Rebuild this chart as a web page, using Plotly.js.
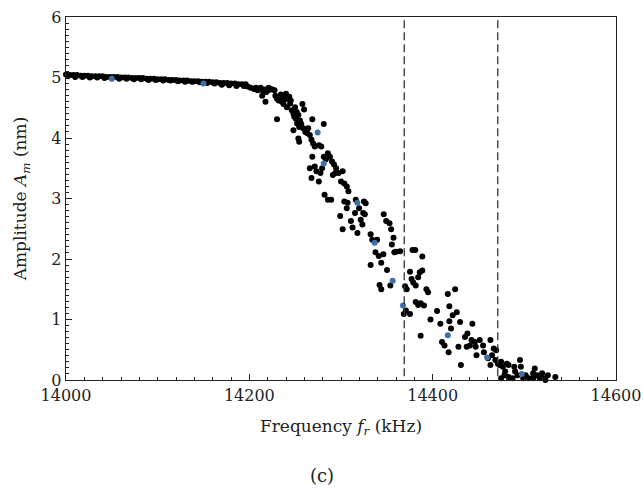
<!DOCTYPE html>
<html>
<head>
<meta charset="utf-8">
<script src="https://cdn.plot.ly/plotly-3.0.1.min.js"></script>
<style>html,body{margin:0;padding:0;background:#fff;}#chart{width:643px;height:490px;}</style>
</head>
<body>
<div id="chart"></div>
<script>
// Flat (low-frequency) part of the curve
var bandFreq = [14000,14004,14008,14012,14016,14020,14024,14028,14032,14036,14040,14044,14048,14052,14056,14060,14064,14068,14072,14076,14080,14084,14088,14092,14096,14100,14104,14108,14112,14116,14120,14124,14128,14132,14136,14140,14144,14148,14152,14156,14160,14164,14168,14172,14176,14180,14184,14188,14192,14196,
                14002,14010,14018,14026,14034,14042,14050,14058,14066,14074,14082,14090,14098,14106,14114,14122,14130,14138,14146,14154,14162,14170,14178,14186,14194,14198];
var bandAmp  = [5.05,5.04,5.04,5.04,5.03,5.03,5.03,5.02,5.02,5.02,5.02,5.01,5.01,5.01,5.01,5.00,5.00,5.00,4.99,4.99,4.99,4.99,4.98,4.98,4.98,4.97,4.97,4.97,4.96,4.96,4.96,4.95,4.95,4.95,4.94,4.94,4.94,4.93,4.93,4.93,4.92,4.92,4.91,4.91,4.91,4.90,4.90,4.89,4.89,4.89,
                5.02,5.01,5.01,5.00,5.00,4.99,4.99,4.98,4.98,4.97,4.97,4.96,4.96,4.95,4.95,4.94,4.93,4.93,4.92,4.91,4.90,4.88,4.87,4.86,4.86,4.85];

// Scattered drop region
var dropFreq = [14201.5,14207.3,14210.5,14214.0,14216.3,14218.5,14217.6,14220.8,14223.0,14227.5,14228.4,14230.2,14230.2,14232.0,14233.8,14235.5,14237.3,14240.0,14241.8,14243.6,14244.5,14240.9,14246.3,14248.1,14249.9,14251.7,14249.0,14250.8,14253.5,14255.2,14257.9,14259.7,14248.1,14252.1,14254.4,14256.6,14258.8,14261.1,14263.3,14268.7,14281.2,14254.4,14253.5,14264.2,14266.0,14267.8,14269.6,14271.4,14275.8,14278.5,14281.2,14283.5,14285.7,14287.9,14290.2,14292.4,14294.7,14268.7,14271.4,14273.2,14279.4,14277.6,14266.0,14267.8,14275.8,14282.1,14285.7,14289.3,14291.1,14293.8,14297.3,14300.0,14301.8,14303.6,14306.3,14308.1,14299.1,14301.8,14303.6,14306.3,14307.2,14310.8,14312.6,14315.3,14316.1,14319.7,14321.5,14323.3,14325.1,14326.9,14324.2,14326.0,14317.9,14332.3,14334.1,14339.4,14346.6,14349.3,14352.9,14354.7,14357.3,14355.5,14358.2,14360.0,14337.6,14341.2,14343.9,14346.2,14332.3,14342.1,14343.9,14350.2,14353.8,14364.5,14378.0,14381.0,14369.9,14371.7,14368.5,14370.8,14375.3,14377.0,14378.8,14381.5,14384.2,14386.0,14388.7,14388.7,14381.5,14384.2,14386.9,14390.5,14375.3,14386.9,14393.2,14395.0,14397.6,14404.8,14408.4,14410.2,14412.9,14416.5,14418.2,14420.0,14418.2,14417.4,14421.8,14424.5,14426.3,14428.1,14429.9,14430.8,14435.3,14437.9,14440.6,14442.4,14443.3,14446.0,14446.9,14437.1,14447.8,14451.4,14455.0,14455.9,14460.3,14463.0,14464.8,14466.6,14468.4,14463.0,14469.3,14471.1,14472.9,14474.7,14476.5,14479.1,14480.9,14482.7,14474.7,14478.3,14482.7,14487.2,14489.0,14489.9,14492.6,14495.3,14496.2,14498.8,14501.5,14505.1,14509.6,14511.4,14514.1,14516.8,14519.4,14521.2,14523.0,14525.7,14533.8,14509.6,14205.0,14209.0,14212.3,14215.0,14221.0,14225.0,14234.5,14238.6,14245.2,14239.0];
var dropAmp  = [4.83,4.83,4.80,4.70,4.80,4.76,4.60,4.79,4.81,4.79,4.70,4.65,4.31,4.62,4.68,4.60,4.56,4.73,4.65,4.68,4.57,4.51,4.46,4.40,4.51,4.43,4.35,4.32,4.38,4.29,4.56,4.47,4.13,4.24,4.18,4.23,4.16,4.10,4.08,4.31,4.23,3.94,3.99,4.16,4.05,3.97,3.91,3.86,3.88,3.86,3.69,3.65,3.75,3.69,3.61,3.56,3.50,3.69,3.53,3.45,3.50,3.42,3.50,3.34,3.28,3.06,2.98,2.98,3.39,3.42,3.42,3.28,3.45,3.25,3.20,3.12,2.71,2.49,2.95,2.84,2.93,2.63,2.52,2.76,2.98,2.84,2.65,2.57,2.95,2.92,2.76,2.74,2.43,2.41,2.32,2.32,2.74,2.63,2.59,2.49,2.35,2.24,2.11,2.12,2.11,2.05,1.94,2.08,1.90,1.57,1.50,1.82,1.56,2.13,2.15,2.15,1.55,1.50,1.09,1.15,1.79,1.67,1.61,1.56,1.70,1.78,1.81,2.04,1.29,1.24,1.27,1.23,1.09,0.73,1.50,1.45,1.00,1.14,0.93,0.63,0.57,1.42,1.22,0.85,0.97,0.46,1.07,1.50,1.12,0.55,0.96,0.25,0.71,0.77,0.57,0.66,0.93,0.63,0.55,0.55,0.41,0.66,0.57,0.46,0.36,0.66,0.41,0.52,0.33,0.25,0.49,0.27,0.25,0.30,0.22,0.14,0.27,0.25,0.03,0.08,0.05,0.03,0.22,0.14,0.08,0.33,0.22,0.03,0.08,0.03,0.03,0.19,0.08,0.03,0.11,0.03,0.00,0.08,0.05,0.11,4.81,4.79,4.83,4.78,4.83,4.80,4.72,4.64,4.62,4.69];

// Highlighted (blue) points
var blueFreq = [14050,14150,14274.5,14281.2,14317.9,14336.7,14356.4,14367.6,14416.5,14459.4,14497.1];
var blueAmp  = [4.98,4.90,4.09,3.58,2.93,2.27,1.64,1.23,0.74,0.37,0.10];

// Dashed reference lines
var cutoffFreq = [14369, 14471];

var serif = 'DejaVu Serif';

var traces = [
  {x: bandFreq, y: bandAmp, type: 'scatter', mode: 'markers', cliponaxis: false,
   marker: {color: '#000', size: 6}, showlegend: false},
  {x: dropFreq, y: dropAmp, type: 'scatter', mode: 'markers', cliponaxis: false,
   marker: {color: '#000', size: 6}, showlegend: false},
  {x: blueFreq, y: blueAmp, type: 'scatter', mode: 'markers', cliponaxis: false,
   marker: {color: '#3d6fa8', size: 6}, showlegend: false}
];

var shapes = cutoffFreq.map(function (f) {
  return {type: 'line', xref: 'x', yref: 'y', x0: f, x1: f, y0: 0.06, y1: 6,
          line: {color: '#333', width: 1.3, dash: '8px,4px'}};
});

var axisCommon = {
  showgrid: false, zeroline: false, showline: true, mirror: true,
  linecolor: '#222', linewidth: 1.3,
  ticks: 'inside', ticklen: 6, tickwidth: 1, tickcolor: '#222',
  tickfont: {family: serif, size: 16, color: '#222'}
};

var layout = {
  width: 643, height: 490,
  margin: {l: 66, r: 27, t: 17, b: 110},
  paper_bgcolor: '#fff', plot_bgcolor: '#fff',
  font: {family: serif, color: '#222'},
  xaxis: Object.assign({}, axisCommon, {
    range: [14000, 14600], dtick: 200, tick0: 14000, tickformat: 'd',
    minor: {dtick: 20, ticks: 'inside', ticklen: 3, tickcolor: '#222', tickwidth: 1},
    title: {text: 'Frequency <i>f</i><sub><i>r</i></sub> (kHz)', font: {family: serif, size: 17, color: '#222'}, standoff: 16}
  }),
  yaxis: Object.assign({}, axisCommon, {
    range: [0, 6], dtick: 1, tick0: 0,
    minor: {dtick: 0.1, ticks: 'inside', ticklen: 3, tickcolor: '#222', tickwidth: 1},
    title: {text: 'Amplitude <i>A</i><sub><i>m</i></sub> (nm)', font: {family: serif, size: 17, color: '#222'}, standoff: 20}
  }),
  shapes: shapes,
  annotations: [{
    text: '(c)', xref: 'paper', yref: 'paper', x: 0.465, y: -0.264,
    xanchor: 'center', yanchor: 'middle', showarrow: false,
    font: {family: serif, size: 18, color: '#222'}
  }]
};

Plotly.newPlot('chart', traces, layout, {staticPlot: true, displayModeBar: false});
</script>
</body>
</html>
